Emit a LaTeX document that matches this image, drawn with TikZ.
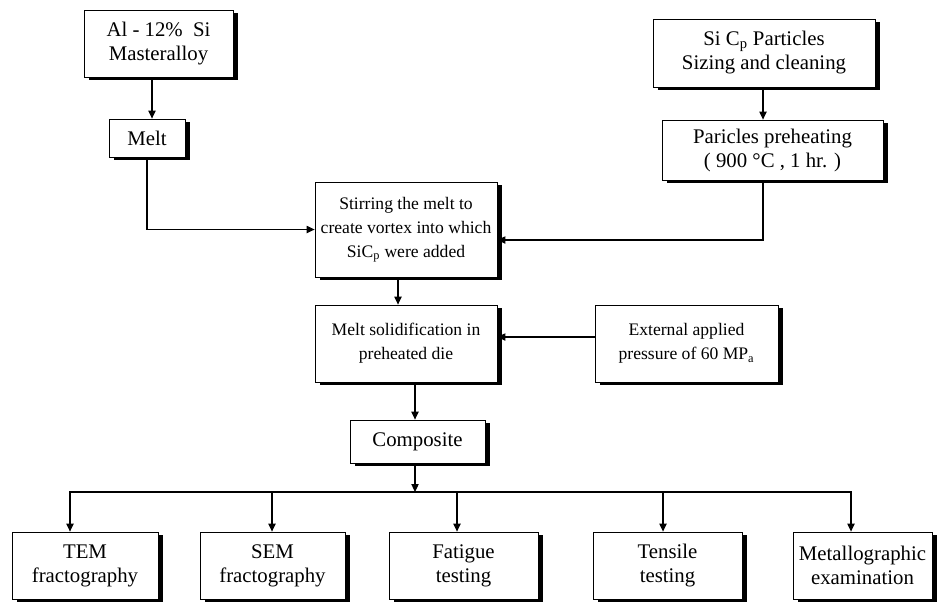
\documentclass[tikz,border=0pt]{standalone}
\usepackage{fontspec}
\setmainfont{Liberation Serif}
\usetikzlibrary{shadows,arrows.meta,calc}
\begin{document}
\begin{tikzpicture}[x=0.75pt,y=-0.75pt,
  box/.style={draw=black, line width=0.6pt, fill=white, inner sep=0pt, align=center,
    font=\fontsize{15.6}{18}\selectfont,
    drop shadow={shadow xshift=3.6pt, shadow yshift=-2.4pt, fill=black, opacity=1}},
  midbox/.style={box, font=\fontsize{13.2}{18}\selectfont},
  wh/.style 2 args={minimum width=#1*0.75pt, minimum height=#2*0.75pt},
  arr/.style={line width=0.8pt, -{Triangle[length=6pt,width=5.5pt]}}]
\useasboundingbox (0,0) rectangle (937,601);
% top row
\node[box, wh={149}{67}] (al) at (158.5,43.5) {Al - 12\%~~Si\\Masteralloy};
\node[box, wh={76}{38}] (melt) at (147,138) {Melt};
\node[box, wh={222}{68}] (sic) at (764,53) {Si C\textsubscript{p} Particles\\Sizing and cleaning};
\node[box, wh={221}{60}] (pre) at (772.5,150) {Paricles preheating\\( 900 °C , 1 hr. )};
% middle
\node[midbox, wh={182}{95}] (stir) at (406,229.5) {Stirring the melt to\\create vortex into which\\SiC\textsubscript{p} were added};
\node[midbox, wh={182}{77}] (sol) at (406,343.5) {Melt solidification in\\preheated die};
\node[midbox, wh={183}{77}] (ext) at (686.5,343.5) {External applied\\pressure of 60 MP\textsubscript{a}};
\node[box, wh={135}{43}] (comp) at (417.5,441.5) {Composite};
% bottom row
\node[box, wh={146}{67}] (tem) at (85,565.5) {TEM\\fractography};
\node[box, wh={145}{67}] (sem) at (272.5,565.5) {SEM\\fractography};
\node[box, wh={149}{67}] (fat) at (463.5,565.5) {Fatigue\\testing};
\node[box, wh={149}{67}] (ten) at (667.5,565.5) {Tensile\\testing};
\node[box, wh={139}{67}] (met) at (862.5,565.5) {Metallographic\\examination};
% connectors
\coordinate (xa) at (152,0);
\coordinate (xb) at (763,0);
\coordinate (xc) at (398,0);
\coordinate (xd) at (415,0);
\coordinate (yb) at (0,240);
\coordinate (yc) at (0,337);
\coordinate (bus) at (415,492);
\coordinate (t1) at (70,0);
\coordinate (t2) at (272,0);
\coordinate (t3) at (457,0);
\coordinate (t4) at (663,0);
\coordinate (t5) at (851,0);
\draw[arr] (xa |- al.south) -- (xa |- melt.north);
\draw[arr] (xb |- sic.south) -- (xb |- pre.north);
\draw[arr] (melt.south) |- (stir.west);
\draw[arr] (xb |- pre.south) |- (yb -| stir.east);
\draw[arr] (xc |- stir.south) -- (xc |- sol.north);
\draw[arr] (yc -| ext.west) -- (yc -| sol.east);
\draw[arr] (xd |- sol.south) -- (xd |- comp.north);
\draw[arr] (xd |- comp.south) -- (bus);
\draw[arr] (bus) -| (t1 |- tem.north);
\draw[arr] (bus) -| (t2 |- sem.north);
\draw[arr] (bus) -| (t3 |- fat.north);
\draw[arr] (bus) -| (t4 |- ten.north);
\draw[arr] (bus) -| (t5 |- met.north);
\end{tikzpicture}
\end{document}
